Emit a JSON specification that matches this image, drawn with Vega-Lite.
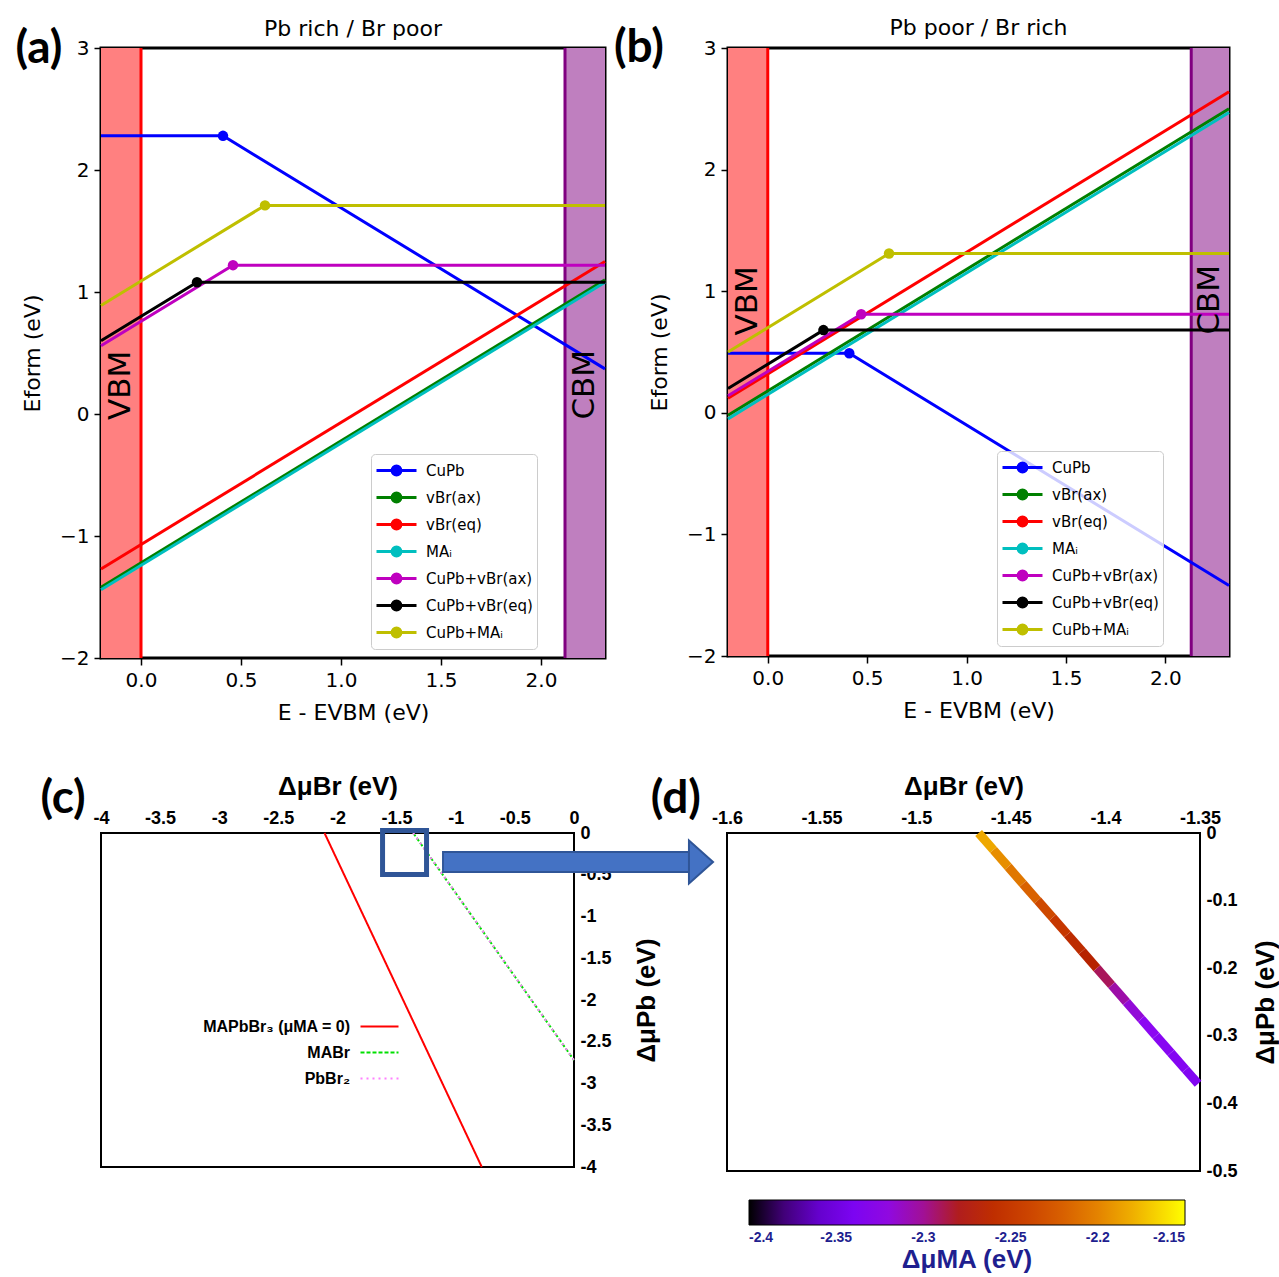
{
  "$schema": "https://vega.github.io/schema/vega-lite/v6.json",
  "background": "white",
  "padding": {"left": 14, "top": 15, "right": 0, "bottom": 0},
  "config": {
    "view": {"stroke": null},
    "font": "DejaVu Sans",
    "axis": {"grid": false, "domain": false, "labelFlush": false, "labelOverlap": false, "labelBound": false, "tickColor": "black", "labelColor": "black", "titleColor": "black"},
    "legend": {"labelOverlap": false}
  },
  "datasets": {
    "a_lines": [
      {"s": "CuPb", "x": -0.2, "y": 2.28}, {"s": "CuPb", "x": 0.41, "y": 2.28}, {"s": "CuPb", "x": 2.32, "y": 0.37},
      {"s": "vBr(ax)", "x": -0.2, "y": -1.42}, {"s": "vBr(ax)", "x": 2.32, "y": 1.1},
      {"s": "vBr(eq)", "x": -0.2, "y": -1.27}, {"s": "vBr(eq)", "x": 2.32, "y": 1.25},
      {"s": "MAᵢ", "x": -0.2, "y": -1.44}, {"s": "MAᵢ", "x": 2.32, "y": 1.08},
      {"s": "CuPb+vBr(ax)", "x": -0.2, "y": 0.56}, {"s": "CuPb+vBr(ax)", "x": 0.46, "y": 1.22}, {"s": "CuPb+vBr(ax)", "x": 2.32, "y": 1.22},
      {"s": "CuPb+vBr(eq)", "x": -0.2, "y": 0.6}, {"s": "CuPb+vBr(eq)", "x": 0.28, "y": 1.08}, {"s": "CuPb+vBr(eq)", "x": 2.32, "y": 1.08},
      {"s": "CuPb+MAᵢ", "x": -0.2, "y": 0.89}, {"s": "CuPb+MAᵢ", "x": 0.62, "y": 1.71}, {"s": "CuPb+MAᵢ", "x": 2.32, "y": 1.71}
    ],
    "a_dots": [
      {"s": "CuPb", "x": 0.41, "y": 2.28},
      {"s": "CuPb+vBr(ax)", "x": 0.46, "y": 1.22},
      {"s": "CuPb+vBr(eq)", "x": 0.28, "y": 1.08},
      {"s": "CuPb+MAᵢ", "x": 0.62, "y": 1.71}
    ],
    "b_lines": [
      {"s": "CuPb", "x": -0.2, "y": 0.49}, {"s": "CuPb", "x": 0.41, "y": 0.49}, {"s": "CuPb", "x": 2.32, "y": -1.42},
      {"s": "vBr(ax)", "x": -0.2, "y": -0.02}, {"s": "vBr(ax)", "x": 2.32, "y": 2.5},
      {"s": "vBr(eq)", "x": -0.2, "y": 0.12}, {"s": "vBr(eq)", "x": 2.32, "y": 2.64},
      {"s": "MAᵢ", "x": -0.2, "y": -0.05}, {"s": "MAᵢ", "x": 2.32, "y": 2.47},
      {"s": "CuPb+vBr(ax)", "x": -0.2, "y": 0.14}, {"s": "CuPb+vBr(ax)", "x": 0.47, "y": 0.81}, {"s": "CuPb+vBr(ax)", "x": 2.32, "y": 0.81},
      {"s": "CuPb+vBr(eq)", "x": -0.2, "y": 0.2}, {"s": "CuPb+vBr(eq)", "x": 0.28, "y": 0.68}, {"s": "CuPb+vBr(eq)", "x": 2.32, "y": 0.68},
      {"s": "CuPb+MAᵢ", "x": -0.2, "y": 0.5}, {"s": "CuPb+MAᵢ", "x": 0.61, "y": 1.31}, {"s": "CuPb+MAᵢ", "x": 2.32, "y": 1.31}
    ],
    "b_dots": [
      {"s": "CuPb", "x": 0.41, "y": 0.49},
      {"s": "CuPb+vBr(ax)", "x": 0.47, "y": 0.81},
      {"s": "CuPb+vBr(eq)", "x": 0.28, "y": 0.68},
      {"s": "CuPb+MAᵢ", "x": 0.61, "y": 1.31}
    ],
    "c_lines": [
      {"p": "MAPbBr₃ (μMA = 0)", "x": -2.11, "y": 0}, {"p": "MAPbBr₃ (μMA = 0)", "x": -0.78, "y": -4},
      {"p": "MABr", "x": -1.36, "y": 0}, {"p": "MABr", "x": 0, "y": -2.72},
      {"p": "PbBr₂", "x": -1.36, "y": 0}, {"p": "PbBr₂", "x": 0, "y": -2.72}
    ],
    "d_segs": [
      {"x": -1.467, "y": 0, "x2": -1.4592, "y2": -0.025, "mu": -2.183},
      {"x": -1.4592, "y": -0.025, "x2": -1.4514, "y2": -0.05, "mu": -2.195},
      {"x": -1.4514, "y": -0.05, "x2": -1.4436, "y2": -0.075, "mu": -2.207},
      {"x": -1.4436, "y": -0.075, "x2": -1.4358, "y2": -0.1, "mu": -2.219},
      {"x": -1.4358, "y": -0.1, "x2": -1.4279, "y2": -0.125, "mu": -2.236},
      {"x": -1.4279, "y": -0.125, "x2": -1.4201, "y2": -0.15, "mu": -2.25},
      {"x": -1.4201, "y": -0.15, "x2": -1.4123, "y2": -0.175, "mu": -2.262},
      {"x": -1.4123, "y": -0.175, "x2": -1.4045, "y2": -0.2, "mu": -2.272},
      {"x": -1.4045, "y": -0.2, "x2": -1.3967, "y2": -0.225, "mu": -2.29},
      {"x": -1.3967, "y": -0.225, "x2": -1.3889, "y2": -0.25, "mu": -2.305},
      {"x": -1.3889, "y": -0.25, "x2": -1.3811, "y2": -0.275, "mu": -2.318},
      {"x": -1.3811, "y": -0.275, "x2": -1.3733, "y2": -0.3, "mu": -2.325},
      {"x": -1.3733, "y": -0.3, "x2": -1.3654, "y2": -0.325, "mu": -2.33},
      {"x": -1.3654, "y": -0.325, "x2": -1.3576, "y2": -0.35, "mu": -2.333},
      {"x": -1.3576, "y": -0.35, "x2": -1.351, "y2": -0.371, "mu": -2.336}
    ]
  },
  "bounds": "flush",
  "spacing": 785,
  "resolve": {
    "scale": {"x": "independent", "y": "independent", "color": "independent", "strokeDash": "independent"},
    "legend": {"color": "independent", "strokeDash": "independent"},
    "axis": {"x": "independent", "y": "independent"}
  },
  "vconcat": [
    {
      "bounds": "flush",
      "spacing": 123,
      "resolve": {
        "scale": {"x": "independent", "y": "independent", "color": "independent"},
        "legend": {"color": "independent"},
        "axis": {"x": "independent", "y": "independent"}
      },
      "hconcat": [
        {
          "width": 504,
          "height": 610,
          "view": {"stroke": "black", "strokeWidth": 3},
          "title": {"text": "Pb rich / Br poor", "frame": "group", "font": "DejaVu Sans", "fontSize": 22, "fontWeight": "normal", "color": "black", "offset": -15},
          "encoding": {
            "x": {"field": "x", "type": "quantitative", "title": "E - EVBM (eV)", "scale": {"domain": [-0.2, 2.32], "nice": false, "zero": false},
              "axis": {"values": [0, 0.5, 1, 1.5, 2], "format": ".1f", "labelFont": "DejaVu Sans", "labelFontSize": 20, "labelPadding": 5, "tickSize": 7, "tickWidth": 1.5, "titleFont": "DejaVu Sans", "titleFontSize": 22, "titleFontWeight": "normal", "titlePadding": 12}},
            "y": {"field": "y", "type": "quantitative", "title": "Eform (eV)", "scale": {"domain": [-2, 3], "nice": false, "zero": false},
              "axis": {"values": [-2, -1, 0, 1, 2, 3], "labelExpr": "replace(datum.label, '-', '−')", "labelFont": "DejaVu Sans", "labelFontSize": 20, "labelPadding": 5, "tickSize": 7, "tickWidth": 1.5, "titleFont": "DejaVu Sans", "titleFontSize": 22, "titleFontWeight": "normal", "titlePadding": 15}}
          },
          "layer": [
            {"data": {"values": [{"x": -0.2, "x2": 0, "y": -2, "y2": 3}]}, "mark": {"type": "rect", "color": "#ff8080"}, "encoding": {"x2": {"field": "x2"}, "y2": {"field": "y2"}}},
            {"data": {"values": [{"x": 2.12, "x2": 2.32, "y": -2, "y2": 3}]}, "mark": {"type": "rect", "color": "#bf7fbf"}, "encoding": {"x2": {"field": "x2"}, "y2": {"field": "y2"}}},
            {"data": {"values": [{"x": 0, "y": -2, "y2": 3}]}, "mark": {"type": "rule", "color": "#ff0000", "strokeWidth": 3}, "encoding": {"y2": {"field": "y2"}}},
            {"data": {"values": [{"x": 2.12, "y": -2, "y2": 3}]}, "mark": {"type": "rule", "color": "#800080", "strokeWidth": 3}, "encoding": {"y2": {"field": "y2"}}},
            {
              "data": {"name": "a_lines"},
              "mark": {"type": "line", "strokeWidth": 3},
              "encoding": {
                "color": {"field": "s", "type": "nominal",
                  "scale": {"domain": ["CuPb", "vBr(ax)", "vBr(eq)", "MAᵢ", "CuPb+vBr(ax)", "CuPb+vBr(eq)", "CuPb+MAᵢ"], "range": ["#0000ff", "#008000", "#ff0000", "#00bfbf", "#bf00bf", "#000000", "#bfbf00"]},
                  "legend": {"orient": "none", "legendX": 270, "legendY": 406, "title": null, "padding": 4,
                    "symbolType": "M-1,0H1M0.22,0A0.22,0.22,0,1,1,-0.22,0A0.22,0.22,0,1,1,0.22,0", "symbolSize": 1600, "symbolStrokeWidth": 3,
                    "labelFont": "DejaVu Sans", "labelFontSize": 15, "labelColor": "black", "labelOffset": 8, "clipHeight": 25, "rowPadding": 2,
                    "strokeColor": "#cccccc", "fillColor": "rgba(255,255,255,0.8)", "cornerRadius": 4,
                    "encode": {"symbols": {"update": {
                      "fill": {"signal": "({'CuPb':'#0000ff','vBr(ax)':'#008000','vBr(eq)':'#ff0000','MAᵢ':'#00bfbf','CuPb+vBr(ax)':'#bf00bf','CuPb+vBr(eq)':'#000000','CuPb+MAᵢ':'#bfbf00'})[datum.value]"},
                      "stroke": {"signal": "({'CuPb':'#0000ff','vBr(ax)':'#008000','vBr(eq)':'#ff0000','MAᵢ':'#00bfbf','CuPb+vBr(ax)':'#bf00bf','CuPb+vBr(eq)':'#000000','CuPb+MAᵢ':'#bfbf00'})[datum.value]"},
                      "opacity": {"value": 1}}}}}}
              }
            },
            {
              "data": {"name": "a_dots"},
              "mark": {"type": "point", "filled": true, "opacity": 1, "size": 110},
              "encoding": {"color": {"field": "s", "type": "nominal", "legend": null}}
            },
            {
              "data": {"values": [{"x": -0.1, "y": 0.235, "t": "VBM"}, {"x": 2.22, "y": 0.24, "t": "CBM"}]},
              "mark": {"type": "text", "angle": 270, "font": "DejaVu Sans", "fontSize": 31, "color": "black", "align": "center", "baseline": "middle"},
              "encoding": {"text": {"field": "t"}}
            },
            {
              "data": {"values": [{"x": -0.51, "y": 2.99, "t": "(a)"}]},
              "mark": {"type": "text", "font": "Lato", "fontWeight": "bold", "fontSize": 46, "color": "black", "align": "center", "baseline": "middle", "clip": false},
              "encoding": {"text": {"field": "t"}}
            }
          ]
        },
        {
          "width": 501,
          "height": 608,
          "view": {"stroke": "black", "strokeWidth": 3},
          "title": {"text": "Pb poor / Br rich", "frame": "group", "font": "DejaVu Sans", "fontSize": 22, "fontWeight": "normal", "color": "black", "offset": -15},
          "encoding": {
            "x": {"field": "x", "type": "quantitative", "title": "E - EVBM (eV)", "scale": {"domain": [-0.2, 2.32], "nice": false, "zero": false},
              "axis": {"values": [0, 0.5, 1, 1.5, 2], "format": ".1f", "labelFont": "DejaVu Sans", "labelFontSize": 20, "labelPadding": 5, "tickSize": 7, "tickWidth": 1.5, "titleFont": "DejaVu Sans", "titleFontSize": 22, "titleFontWeight": "normal", "titlePadding": 12}},
            "y": {"field": "y", "type": "quantitative", "title": "Eform (eV)", "scale": {"domain": [-2, 3], "nice": false, "zero": false},
              "axis": {"values": [-2, -1, 0, 1, 2, 3], "labelExpr": "replace(datum.label, '-', '−')", "labelFont": "DejaVu Sans", "labelFontSize": 20, "labelPadding": 5, "tickSize": 7, "tickWidth": 1.5, "titleFont": "DejaVu Sans", "titleFontSize": 22, "titleFontWeight": "normal", "titlePadding": 15}}
          },
          "layer": [
            {"data": {"values": [{"x": -0.2, "x2": 0, "y": -2, "y2": 3}]}, "mark": {"type": "rect", "color": "#ff8080"}, "encoding": {"x2": {"field": "x2"}, "y2": {"field": "y2"}}},
            {"data": {"values": [{"x": 2.13, "x2": 2.32, "y": -2, "y2": 3}]}, "mark": {"type": "rect", "color": "#bf7fbf"}, "encoding": {"x2": {"field": "x2"}, "y2": {"field": "y2"}}},
            {"data": {"values": [{"x": 0, "y": -2, "y2": 3}]}, "mark": {"type": "rule", "color": "#ff0000", "strokeWidth": 3}, "encoding": {"y2": {"field": "y2"}}},
            {"data": {"values": [{"x": 2.13, "y": -2, "y2": 3}]}, "mark": {"type": "rule", "color": "#800080", "strokeWidth": 3}, "encoding": {"y2": {"field": "y2"}}},
            {
              "data": {"name": "b_lines"},
              "mark": {"type": "line", "strokeWidth": 3},
              "encoding": {
                "color": {"field": "s", "type": "nominal",
                  "scale": {"domain": ["CuPb", "vBr(ax)", "vBr(eq)", "MAᵢ", "CuPb+vBr(ax)", "CuPb+vBr(eq)", "CuPb+MAᵢ"], "range": ["#0000ff", "#008000", "#ff0000", "#00bfbf", "#bf00bf", "#000000", "#bfbf00"]},
                  "legend": {"orient": "none", "legendX": 269, "legendY": 403, "title": null, "padding": 4,
                    "symbolType": "M-1,0H1M0.22,0A0.22,0.22,0,1,1,-0.22,0A0.22,0.22,0,1,1,0.22,0", "symbolSize": 1600, "symbolStrokeWidth": 3,
                    "labelFont": "DejaVu Sans", "labelFontSize": 15, "labelColor": "black", "labelOffset": 8, "clipHeight": 25, "rowPadding": 2,
                    "strokeColor": "#cccccc", "fillColor": "rgba(255,255,255,0.8)", "cornerRadius": 4,
                    "encode": {"symbols": {"update": {
                      "fill": {"signal": "({'CuPb':'#0000ff','vBr(ax)':'#008000','vBr(eq)':'#ff0000','MAᵢ':'#00bfbf','CuPb+vBr(ax)':'#bf00bf','CuPb+vBr(eq)':'#000000','CuPb+MAᵢ':'#bfbf00'})[datum.value]"},
                      "stroke": {"signal": "({'CuPb':'#0000ff','vBr(ax)':'#008000','vBr(eq)':'#ff0000','MAᵢ':'#00bfbf','CuPb+vBr(ax)':'#bf00bf','CuPb+vBr(eq)':'#000000','CuPb+MAᵢ':'#bfbf00'})[datum.value]"},
                      "opacity": {"value": 1}}}}}}
              }
            },
            {
              "data": {"name": "b_dots"},
              "mark": {"type": "point", "filled": true, "opacity": 1, "size": 110},
              "encoding": {"color": {"field": "s", "type": "nominal", "legend": null}}
            },
            {
              "data": {"values": [{"x": -0.1, "y": 0.92, "t": "VBM"}, {"x": 2.225, "y": 0.93, "t": "CBM"}]},
              "mark": {"type": "text", "angle": 270, "font": "DejaVu Sans", "fontSize": 31, "color": "black", "align": "center", "baseline": "middle"},
              "encoding": {"text": {"field": "t"}}
            },
            {
              "data": {"values": [{"x": -0.648, "y": 3.0, "t": "(b)"}]},
              "mark": {"type": "text", "font": "Lato", "fontWeight": "bold", "fontSize": 46, "color": "black", "align": "center", "baseline": "middle", "clip": false},
              "encoding": {"text": {"field": "t"}}
            }
          ]
        }
      ]
    },
    {
      "bounds": "flush",
      "spacing": 153,
      "resolve": {
        "scale": {"x": "independent", "y": "independent", "color": "independent", "strokeDash": "independent"},
        "legend": {"color": "independent", "strokeDash": "independent"},
        "axis": {"x": "independent", "y": "independent"}
      },
      "hconcat": [
        {
          "width": 473,
          "height": 334,
          "view": {"stroke": "black", "strokeWidth": 2},
          "encoding": {
            "x": {"field": "x", "type": "quantitative", "title": "ΔμBr (eV)", "scale": {"domain": [-4, 0], "nice": false, "zero": false},
              "axis": {"orient": "top",
                "values": [-4, -3.875, -3.75, -3.625, -3.5, -3.375, -3.25, -3.125, -3, -2.875, -2.75, -2.625, -2.5, -2.375, -2.25, -2.125, -2, -1.875, -1.75, -1.625, -1.5, -1.375, -1.25, -1.125, -1, -0.875, -0.75, -0.625, -0.5, -0.375, -0.25, -0.125, 0],
                "format": "~g",
                "labelExpr": "abs(datum.value*2-round(datum.value*2)) < 0.001 ? replace(datum.label, '−', '-') : ''",
                "labelFont": "Liberation Sans", "labelFontWeight": "bold", "labelFontSize": 18, "labelPadding": 6,
                "tickSize": 0, "tickWidth": 1.5,
                "encode": {"ticks": {"update": {"y2": {"signal": "abs(datum.value*2-round(datum.value*2)) < 0.001 ? 12 : 6"}}}},
                "titleFont": "Liberation Sans", "titleFontWeight": "bold", "titleFontSize": 26, "titlePadding": 10}},
            "y": {"field": "y", "type": "quantitative", "title": "ΔμPb (eV)", "scale": {"domain": [-4, 0], "nice": false, "zero": false},
              "axis": {"orient": "right",
                "values": [-4, -3.875, -3.75, -3.625, -3.5, -3.375, -3.25, -3.125, -3, -2.875, -2.75, -2.625, -2.5, -2.375, -2.25, -2.125, -2, -1.875, -1.75, -1.625, -1.5, -1.375, -1.25, -1.125, -1, -0.875, -0.75, -0.625, -0.5, -0.375, -0.25, -0.125, 0],
                "format": "~g",
                "labelExpr": "abs(datum.value*2-round(datum.value*2)) < 0.001 ? replace(datum.label, '−', '-') : ''",
                "labelFont": "Liberation Sans", "labelFontWeight": "bold", "labelFontSize": 18, "labelPadding": 6,
                "tickSize": 0, "tickWidth": 1.5,
                "encode": {"ticks": {"update": {"x2": {"signal": "abs(datum.value*2-round(datum.value*2)) < 0.001 ? -12 : -6"}}}},
                "titleFont": "Liberation Sans", "titleFontWeight": "bold", "titleFontSize": 26, "titleAngle": 270, "titleBaseline": "top", "titlePadding": 22}}
          },
          "layer": [
            {
              "data": {"name": "c_lines"},
              "mark": {"type": "line", "strokeWidth": 2},
              "encoding": {
                "color": {"field": "p", "type": "nominal",
                  "scale": {"domain": ["MAPbBr₃ (μMA = 0)", "MABr", "PbBr₂"], "range": ["#ff0000", "#00e000", "#ff80ff"]},
                  "legend": {"orient": "none", "legendX": 268, "legendY": 183, "title": null, "padding": 0,
                    "symbolType": "M-2,0H2", "symbolSize": 361, "symbolStrokeWidth": 2,
                    "labelAlign": "right", "labelOffset": -40, "rowPadding": 7,
                    "labelFont": "Liberation Sans", "labelFontWeight": "bold", "labelFontSize": 16, "labelColor": "black"}},
                "strokeDash": {"field": "p", "type": "nominal",
                  "scale": {"domain": ["MAPbBr₃ (μMA = 0)", "MABr", "PbBr₂"], "range": [[1, 0], [4, 2], [2, 4]]},
                  "legend": {"orient": "none", "legendX": 268, "legendY": 183, "title": null, "padding": 0,
                    "symbolType": "M-2,0H2", "symbolSize": 361, "symbolStrokeWidth": 2,
                    "labelAlign": "right", "labelOffset": -40, "rowPadding": 7,
                    "labelFont": "Liberation Sans", "labelFontWeight": "bold", "labelFontSize": 16, "labelColor": "black"}}
              }
            },
            {
              "data": {"values": [{"x": -1.619, "x2": -1.247, "y": 0.03, "y2": -0.497}]},
              "mark": {"type": "rect", "filled": false, "stroke": "#2f5597", "strokeWidth": 5, "clip": false},
              "encoding": {"x2": {"field": "x2"}, "y2": {"field": "y2"}}
            },
            {
              "data": {"values": [{"x": -1.116, "x2": 0.973, "y": -0.347}]},
              "mark": {"type": "rule", "color": "#2f5597", "strokeWidth": 22, "clip": false},
              "encoding": {"x2": {"field": "x2"}}
            },
            {
              "data": {"values": [{"x": -1.1, "x2": 0.98, "y": -0.347}]},
              "mark": {"type": "rule", "color": "#4472c4", "strokeWidth": 18, "clip": false},
              "encoding": {"x2": {"field": "x2"}}
            },
            {
              "data": {"values": [{"x": 1.074, "y": -0.347}]},
              "mark": {"type": "point", "shape": "M-0.56,-1L0.56,0L-0.56,1Z", "size": 1849, "filled": true, "fill": "#4472c4", "stroke": "#2f5597", "strokeWidth": 2, "opacity": 1, "clip": false},
              "encoding": {}
            },
            {
              "data": {"values": [{"x": -4.321, "y": 0.407, "t": "(c)"}]},
              "mark": {"type": "text", "font": "Lato", "fontWeight": "bold", "fontSize": 46, "color": "black", "align": "center", "baseline": "middle", "clip": false},
              "encoding": {"text": {"field": "t"}}
            }
          ]
        },
        {
          "width": 473,
          "height": 338,
          "view": {"stroke": "black", "strokeWidth": 2},
          "encoding": {
            "x": {"field": "x", "type": "quantitative", "title": "ΔμBr (eV)", "scale": {"domain": [-1.6, -1.35], "nice": false, "zero": false},
              "axis": {"orient": "top",
                "values": [-1.6, -1.5875, -1.575, -1.5625, -1.55, -1.5375, -1.525, -1.5125, -1.5, -1.4875, -1.475, -1.4625, -1.45, -1.4375, -1.425, -1.4125, -1.4, -1.3875, -1.375, -1.3625, -1.35],
                "format": "~g",
                "labelExpr": "abs(datum.value*20-round(datum.value*20)) < 0.001 ? replace(datum.label, '−', '-') : ''",
                "labelFont": "Liberation Sans", "labelFontWeight": "bold", "labelFontSize": 18, "labelPadding": 6,
                "tickSize": 0, "tickWidth": 1.5,
                "encode": {"ticks": {"update": {"y2": {"signal": "abs(datum.value*20-round(datum.value*20)) < 0.001 ? 14 : 7"}}}},
                "titleFont": "Liberation Sans", "titleFontWeight": "bold", "titleFontSize": 26, "titlePadding": 10}},
            "y": {"field": "y", "type": "quantitative", "title": "ΔμPb (eV)", "scale": {"domain": [-0.5, 0], "nice": false, "zero": false},
              "axis": {"orient": "right",
                "values": [-0.5, -0.475, -0.45, -0.425, -0.4, -0.375, -0.35, -0.325, -0.3, -0.275, -0.25, -0.225, -0.2, -0.175, -0.15, -0.125, -0.1, -0.075, -0.05, -0.025, 0],
                "format": "~g",
                "labelExpr": "abs(datum.value*10-round(datum.value*10)) < 0.001 ? replace(datum.label, '−', '-') : ''",
                "labelFont": "Liberation Sans", "labelFontWeight": "bold", "labelFontSize": 18, "labelPadding": 6,
                "tickSize": 0, "tickWidth": 1.5,
                "encode": {"ticks": {"update": {"x2": {"signal": "abs(datum.value*10-round(datum.value*10)) < 0.001 ? -14 : -7"}}}},
                "titleFont": "Liberation Sans", "titleFontWeight": "bold", "titleFontSize": 26, "titleAngle": 270, "titleBaseline": "top", "titlePadding": 15}}
          },
          "layer": [
            {
              "data": {"name": "d_segs"},
              "mark": {"type": "rule", "strokeWidth": 9, "strokeCap": "butt"},
              "encoding": {
                "x2": {"field": "x2"},
                "y2": {"field": "y2"},
                "color": {"field": "mu", "type": "quantitative",
                  "scale": {"domain": [-2.4, -2.375, -2.35, -2.325, -2.3, -2.275, -2.25, -2.225, -2.2, -2.175, -2.15],
                    "range": ["#000000", "#510096", "#7202f2", "#8c07f2", "#a11096", "#b42000", "#c63700", "#d55700", "#e48300", "#f2ba00", "#ffff00"],
                    "interpolate": "rgb"},
                  "legend": {"orient": "none", "direction": "horizontal", "legendX": 22, "legendY": 367,
                    "gradientLength": 436, "gradientThickness": 25, "gradientStrokeColor": "black", "gradientStrokeWidth": 1,
                    "values": [-2.4, -2.35, -2.3, -2.25, -2.2, -2.15], "format": "~g",
                    "labelExpr": "replace(datum.label, '−', '-')",
                    "labelFont": "Liberation Sans", "labelFontWeight": "bold", "labelFontSize": 14, "labelColor": "#1f1f8f", "labelOffset": 6,
                    "title": "ΔμMA (eV)", "titleOrient": "bottom", "titleAnchor": "middle", "titleFont": "Liberation Sans", "titleFontWeight": "bold", "titleFontSize": 26, "titleColor": "#1f1f8f", "titlePadding": 2}}
              }
            },
            {
              "data": {"values": [{"x": -1.627, "y": 0.05, "t": "(d)"}]},
              "mark": {"type": "text", "font": "Lato", "fontWeight": "bold", "fontSize": 46, "color": "black", "align": "center", "baseline": "middle", "clip": false},
              "encoding": {"text": {"field": "t"}}
            }
          ]
        }
      ]
    }
  ]
}
